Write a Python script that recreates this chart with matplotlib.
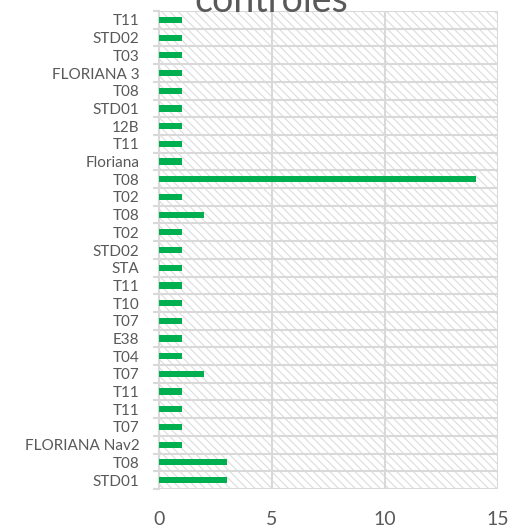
import numpy as np
import matplotlib.pyplot as plt
from matplotlib.patches import Rectangle
from matplotlib.ticker import FixedLocator

# categorias de cima para baixo
categorias = ["T11", "STD02", "T03", "FLORIANA 3", "T08", "STD01", "12B", "T11",
              "Floriana", "T08", "T02", "T08", "T02", "STD02", "STA", "T11", "T10",
              "T07", "E38", "T04", "T07", "T11", "T11", "T07", "FLORIANA Nav2",
              "T08", "STD01"]
valores = [1, 1, 1, 1, 1, 1, 1, 1, 1, 14, 1, 2, 1, 1, 1, 1, 1, 1, 1, 1, 2,
           1, 1, 1, 1, 3, 3]
xticks = [0, 5, 10, 15]

cinza = "#595959"
grade = "#D9D9D9"
verde = "#00B050"

plt.rcParams['font.family'] = ['Lato', 'DejaVu Sans']
plt.rcParams['hatch.linewidth'] = 0.8

fig = plt.figure(figsize=(5.11, 5.28), dpi=100)
ax = fig.add_axes([0.311, 0.074, 0.664, 0.905])

n = len(categorias)
pos = np.arange(n)

# fundo hachurado
ax.add_patch(Rectangle((0, -0.5), 15, n, fill=False, hatch='\\\\\\\\',
                       edgecolor="#DCDCDC", linewidth=0, zorder=0))

ax.barh(pos, valores, height=0.35, color=verde, zorder=3)

ax.set_xlim(0, 15)
ax.set_ylim(n - 0.5, -0.5)
ax.set_xticks(xticks)
ax.set_yticks(pos)
ax.set_yticklabels(categorias)
ax.yaxis.set_minor_locator(FixedLocator(np.arange(-0.5, n, 1.0)))

ax.grid(axis='x', color=grade, linewidth=1.5, zorder=1)
ax.grid(axis='y', which='minor', color=grade, linewidth=1.5, zorder=1)
ax.grid(axis='y', which='major', visible=False)

for s in ['top', 'right', 'bottom']:
    ax.spines[s].set_visible(False)
ax.spines['left'].set_color(grade)
ax.spines['left'].set_linewidth(1.5)

ax.tick_params(axis='y', which='major', length=0, labelsize=11,
               labelcolor=cinza, pad=14)
ax.tick_params(axis='y', which='minor', length=4, width=1.5, color=grade)
ax.tick_params(axis='x', length=0, labelsize=14, labelcolor=cinza, pad=16)

fig.text(0.53, 1 - 12 / 528, "controles", ha='center', va='baseline',
         fontsize=27, color=cinza)

fig.savefig("out.png", dpi=100)
